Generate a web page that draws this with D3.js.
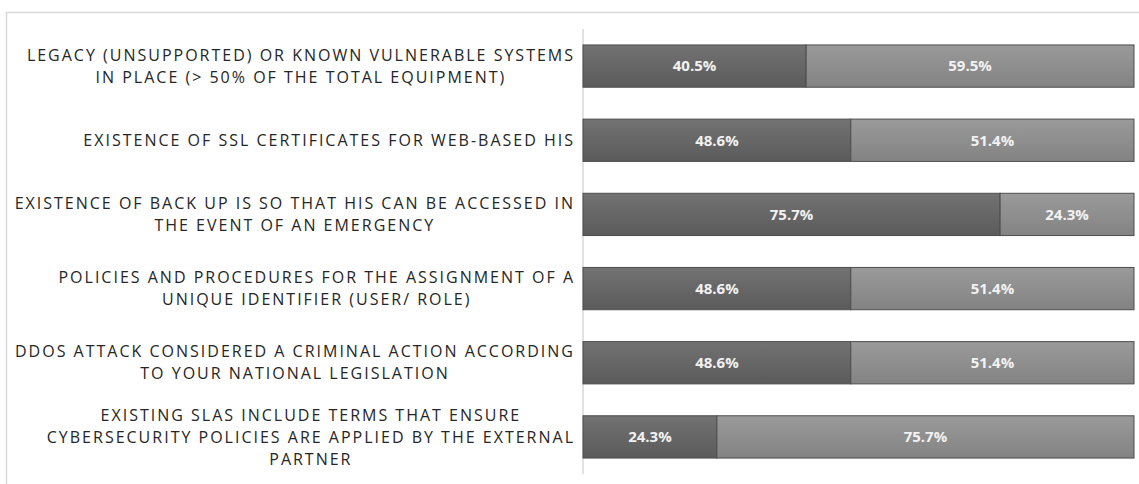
<!DOCTYPE html>
<html>
<head>
<meta charset="utf-8">
<script src="https://cdn.jsdelivr.net/npm/d3@7"></script>
<style>
  body { margin: 0; background: #fff; }
  .cat-label { font-family: "Open Sans", sans-serif; font-size: 16px; fill: #262626; letter-spacing: 2px; }
  .val-label { font-family: "Open Sans", sans-serif; font-size: 15px; font-weight: bold; fill: #f2f2f2; }
</style>
</head>
<body>
<div id="chart"></div>
<script>
// category labels, already split in lines like the original
const categories = [
    ["LEGACY (UNSUPPORTED) OR KNOWN VULNERABLE SYSTEMS", "IN PLACE (> 50% OF THE TOTAL EQUIPMENT)"],
    ["EXISTENCE OF SSL CERTIFICATES FOR WEB-BASED HIS"],
    ["EXISTENCE OF BACK UP IS SO THAT HIS CAN BE ACCESSED IN", "THE EVENT OF AN EMERGENCY"],
    ["POLICIES AND PROCEDURES FOR THE ASSIGNMENT OF A", "UNIQUE IDENTIFIER (USER/ ROLE)"],
    ["DDOS ATTACK CONSIDERED A CRIMINAL ACTION ACCORDING", "TO YOUR NATIONAL LEGISLATION"],
    ["EXISTING SLAS INCLUDE TERMS THAT ENSURE", "CYBERSECURITY POLICIES ARE APPLIED BY THE EXTERNAL", "PARTNER"]
];
const yesValues = [40.5, 48.6, 75.7, 48.6, 48.6, 24.3];
const noValues  = [59.5, 51.4, 24.3, 51.4, 51.4, 75.7];

const width = 1139, height = 484;
const margin = {top: 29, right: 5, bottom: 10, left: 583};

const svg = d3.select("#chart").append("svg")
    .attr("width", width)
    .attr("height", height);

// gradients for the two series
const defs = svg.append("defs");
function addGrad(id, c1, c2) {
    let g = defs.append("linearGradient").attr("id", id)
        .attr("x1", 0).attr("y1", 0).attr("x2", 0).attr("y2", 1);
    g.append("stop").attr("offset", "0%").attr("stop-color", c1);
    g.append("stop").attr("offset", "100%").attr("stop-color", c2);
}
addGrad("gradDark", "#727272", "#5b5b5b");
addGrad("gradLight", "#9a9a9a", "#838383");

// outer frame
svg.append("rect")
    .attr("x", 6.5).attr("y", 12.5)
    .attr("width", 1145).attr("height", 490)
    .attr("fill", "none")
    .attr("stroke", "#d9d9d9")
    .attr("stroke-width", 1.5);

const x = d3.scaleLinear()
    .domain([0, 100])
    .range([margin.left, width - margin.right]);

const y = d3.scaleBand()
    .domain(d3.range(categories.length))
    .range([margin.top, height - margin.bottom])
    .paddingInner(0.43)
    .paddingOuter(0.215);

// axis line
svg.append("line")
    .attr("x1", margin.left).attr("x2", margin.left)
    .attr("y1", margin.top).attr("y2", height - margin.bottom)
    .attr("stroke", "#d9d9d9")
    .attr("stroke-width", 1.5);

const rows = categories.map((c, i) => ({lines: c, yes: yesValues[i], no: noValues[i], i: i}));

const bars = svg.append("g");

// first segment
bars.selectAll(".seg-yes")
    .data(rows)
    .enter().append("rect")
    .attr("class", "seg-yes")
    .attr("x", x(0))
    .attr("y", d => y(d.i))
    .attr("width", d => x(d.yes) - x(0))
    .attr("height", y.bandwidth())
    .attr("fill", "url(#gradDark)")
    .attr("stroke", "#4d4d4d")
    .attr("stroke-width", 1);

// second segment
bars.selectAll(".seg-no")
    .data(rows)
    .enter().append("rect")
    .attr("class", "seg-no")
    .attr("x", d => x(d.yes))
    .attr("y", d => y(d.i))
    .attr("width", d => x(d.yes + d.no) - x(d.yes))
    .attr("height", y.bandwidth())
    .attr("fill", "url(#gradLight)")
    .attr("stroke", "#4d4d4d")
    .attr("stroke-width", 1);

// value labels
bars.selectAll(".lab-yes")
    .data(rows)
    .enter().append("text")
    .attr("class", "val-label")
    .attr("x", d => (x(0) + x(d.yes)) / 2)
    .attr("y", d => y(d.i) + y.bandwidth() / 2)
    .attr("dy", "0.35em")
    .attr("text-anchor", "middle")
    .text(d => d.yes.toFixed(1) + "%");

bars.selectAll(".lab-no")
    .data(rows)
    .enter().append("text")
    .attr("class", "val-label")
    .attr("x", d => (x(d.yes) + x(d.yes + d.no)) / 2)
    .attr("y", d => y(d.i) + y.bandwidth() / 2)
    .attr("dy", "0.35em")
    .attr("text-anchor", "middle")
    .text(d => d.no.toFixed(1) + "%");

// category labels: centred lines, block right-aligned against the axis
const lineH = 22;
const labelRight = 575;
const cats = svg.append("g");
rows.forEach(function (d) {
    let g = cats.append("g");
    let cy = y(d.i) + y.bandwidth() / 2;
    let n = d.lines.length;
    let texts = d.lines.map((l, k) => g.append("text")
        .attr("class", "cat-label")
        .attr("y", cy + (k - (n - 1) / 2) * lineH)
        .attr("dy", "0.35em")
        .attr("text-anchor", "middle")
        .text(l));
    let maxW = d3.max(texts, t => t.node().getComputedTextLength());
    texts.forEach(t => t.attr("x", labelRight - maxW / 2));
});
</script>
</body>
</html>
